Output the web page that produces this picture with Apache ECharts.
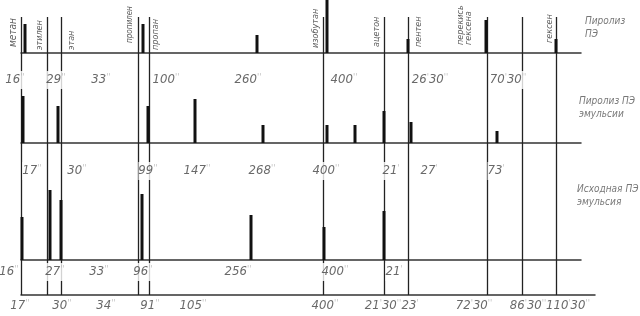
<!DOCTYPE html>
<html><head><meta charset="utf-8">
<script src="https://cdn.jsdelivr.net/npm/echarts@6/dist/echarts.min.js"></script>
<style>html,body{margin:0;padding:0;background:#fff}#c{width:640px;height:316px}</style>
</head><body><div id="c"></div>
<script>
// ---- DATA ----
// reference compounds and their retention positions (chart x units)
const compoundNames = ['метан','этилен','этан','пропилен','пропан','изобутан','ацетон','пентен','перекись\nгексена','','гексен'];
const compoundPos = [21,47,61,138,149,323,384,408,487,522,556];

// chromatogram peaks: [position, intensity]
const peaksPyrolysisPE = [[25,29],[143,29],[257,18],[327,53],[408,14],[486,33],[556,14]];
const peaksPyrolysisEmulsion = [[23,47],[58,37],[148,37],[195,44],[263,18],[327,18],[355,18],[384,32],[411,21],[497,12]];
const peaksInitialEmulsion = [[22,43],[50,70],[61,60],[142,66],[251,45],[324,33],[384,49]];

const panelNames = ['Пиролиз\nПЭ','Пиролиз ПЭ\nэмульсии','Исходная ПЭ\nэмульсия'];

// retention-time annotations
const timesRowA = ['16″','29″','33″','100″','260″','400″','26′30″','70′30″'];
const timesRowB = ['17″','30″','99″','147″','268″','400″','21′','27′','73′'];
const timesRowC = ['16″','27″','33″','96″','256″','400″','21′'];
const timesAxis = ['17″','30″','34″','91″','105″','400″','21′30″','23′','72′30″','86′30″','110′30″'];

// ---- LAYOUT (positions / sizes of annotation texts) ----
const rowAx = [15,56,101,166,248,344,430,508], rowAy = 80;
const rowBx = [32,77,148,197,262,326,391,429,496], rowBy = 171;
const rowCx = [9,55,99,143,238,335,394], rowCy = 272;
const axisX = [20,62,106,150,193,325,383,410,474,528,568], axisY = 306;
const nameX = [13,40,72,130,156,316,377,419,465,522,550];
const nameBottom = [47,50,50,43,50,48,47,47,45,45,43];
const nameSize = [10,9,9,8,9,9,9,9,9,9,9];
const panelLabelPos = [[585,15],[579,95],[577,183]];

const F = "'Liberation Sans Narrow','DejaVu Sans Condensed','Liberation Sans',sans-serif";

function fmt(s){
  return s.replace(/(\d+)|([′″]+)/g,(m,d,p)=> d?('{n|'+d+'}'):('{p|'+p.replace(/″/g,"''").replace(/′/g,"'")+'}'));
}
function textPoints(texts, xs, y){
  return texts.map((t,i)=>({value:[xs[i],y], name:t}));
}

const timeLabel = {
  show:true, position:'inside', align:'center', verticalAlign:'middle',
  formatter: p => fmt(p.name),
  backgroundColor:'#fff', padding:[2,0],
  rich:{
    n:{fontSize:13, color:'#444', fontStyle:'italic', fontFamily:F, lineHeight:14},
    p:{fontSize:9, color:'#b0b0b0', fontStyle:'italic', fontFamily:F, verticalAlign:'top', lineHeight:9}
  }
};

const grids = [
  {left:21, right:59, top:0, height:53},
  {left:21, right:59, top:53, height:90},
  {left:21, right:59, top:143, height:117},
  {left:21, right:45, top:0, height:295}
];
const axLine = {show:true, onZero:false, lineStyle:{color:'#333', width:1.5}};
const xAxes = [0,1,2].map(i=>({gridIndex:i, type:'value', min:21, max:581, axisLine:axLine,
  axisTick:{show:false}, axisLabel:{show:false}, splitLine:{show:false}}));
xAxes.push({gridIndex:3, type:'value', min:21, max:595, axisLine:axLine, position:'bottom',
  axisTick:{show:false}, axisLabel:{show:false}, splitLine:{show:false}});
const yMax = [53,90,117];
const yAxes = [0,1,2].map(i=>({gridIndex:i, type:'value', min:0, max:yMax[i], show:false}));
yAxes.push({gridIndex:3, type:'value', min:0, max:295, inverse:true, show:false});

const peakSets = [peaksPyrolysisPE, peaksPyrolysisEmulsion, peaksInitialEmulsion];
const series = peakSets.map((d,i)=>({
  type:'bar', xAxisIndex:i, yAxisIndex:i, data:d, barWidth:3, z:5,
  itemStyle:{color:'#111'}, silent:true
}));

// reference lines
series.push({
  type:'scatter', xAxisIndex:3, yAxisIndex:3, data:[], z:2,
  markLine:{silent:true, symbol:['none','none'], label:{show:false},
    lineStyle:{color:'#222', width:1.3, type:'solid'},
    data: compoundPos.map(p=>[{coord:[p,17]},{coord:[p,295]}])}
});
// compound names
series.push({
  type:'scatter', xAxisIndex:3, yAxisIndex:3, symbolSize:0, clip:false, z:8,
  data: compoundNames.map((n,i)=>({value:[nameX[i], nameBottom[i]], name:n, label:{fontSize:nameSize[i]}})),
  label:{show:true, position:'inside', rotate:90, align:'left', verticalAlign:'middle',
    formatter:p=>p.name, fontSize:9, lineHeight:8, color:'#333', fontStyle:'italic', fontFamily:F}
});
// time annotations
[[timesRowA,rowAx,rowAy],[timesRowB,rowBx,rowBy],[timesRowC,rowCx,rowCy],[timesAxis,axisX,axisY]].forEach(r=>{
  series.push({type:'scatter', xAxisIndex:3, yAxisIndex:3, symbolSize:0, clip:false, z:10,
    data:textPoints(r[0],r[1],r[2]), label:timeLabel});
});
// panel names
series.push({
  type:'scatter', xAxisIndex:3, yAxisIndex:3, symbolSize:0, clip:false, z:10,
  data: panelNames.map((n,i)=>({value:panelLabelPos[i], name:n})),
  label:{show:true, position:'inside', align:'left', verticalAlign:'top', formatter:p=>p.name,
    fontSize:10, lineHeight:13, color:'#555', fontStyle:'italic', fontFamily:F}
});

const chart = echarts.init(document.getElementById('c'), null, {renderer:'canvas'});
chart.setOption({animation:false, grid:grids, xAxis:xAxes, yAxis:yAxes, series:series});
</script></body></html>
